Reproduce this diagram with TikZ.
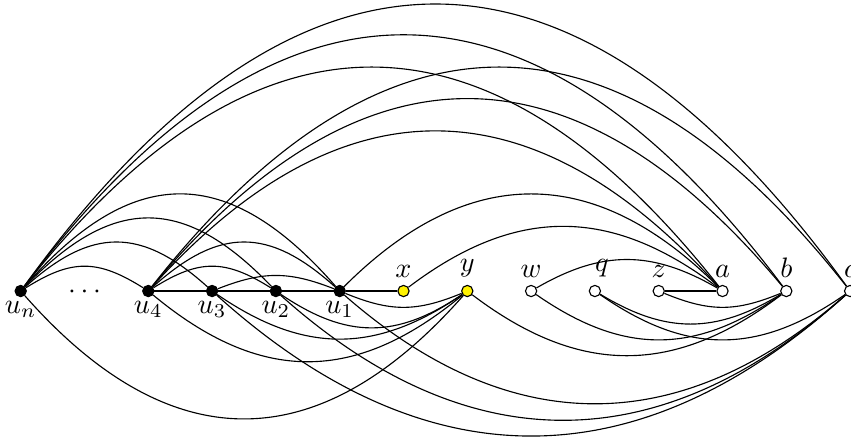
\documentclass[tikz,border=0pt]{standalone}
\usetikzlibrary{backgrounds}
\newcommand{\arcup}[4]{\draw[edge] (#1) .. controls +(#3,-#4) and +(-#3,-#4) .. (#2);}
\newcommand{\arcdn}[4]{\draw[edge] (#1) .. controls +(#3,#4) and +(-#3,#4) .. (#2);}
\begin{document}
\begin{tikzpicture}[x=0.0125cm,y=-0.0125cm,
  vtx/.style={circle,draw=black,line width=0.4pt,inner sep=0pt,minimum size=4pt},
  blk/.style={vtx,fill=black},
  ylw/.style={vtx,fill=yellow},
  wht/.style={vtx,fill=white},
  edge/.style={line width=0.4pt,black},
  lab/.style={inner sep=0pt},
  bl/.style={label={[lab,label distance=1.2pt]below:#1}},
  ab/.style={label={[lab,label distance=2.5pt]above:#1}}]
\useasboundingbox (0,0) rectangle (851,436);
% vertices
\node[blk,bl={$u_n$}] (un) at (20.7,291) {};
\node[inner sep=0pt,anchor=base] (dots) at (84.5,298) {$\cdots$};
\node[blk,bl={$u_4$}] (u4) at (148.3,291) {};
\node[blk,bl={$u_3$}] (u3) at (212.1,291) {};
\node[blk,bl={$u_2$}] (u2) at (275.9,291) {};
\node[blk,bl={$u_1$}] (u1) at (339.7,291) {};
\node[ylw,ab={$x$}] (x) at (403.5,291) {};
\node[ylw,ab={$y$}] (y) at (467.3,291) {};
\node[wht,ab={$w$}] (w) at (531.1,291) {};
\node[wht,label={[lab,label distance=2.5pt,xshift=2.5pt]above:$q$}] (q) at (594.9,291) {};
\node[wht,ab={$z$}] (z) at (658.7,291) {};
\node[wht,ab={$a$}] (a) at (722.5,291) {};
\node[wht,ab={$b$}] (b) at (786.3,291) {};
\node[wht,ab={$c$}] (c) at (850.1,291) {};
\begin{scope}[on background layer]
% straight edges
\draw[edge] (u4) -- (u3) -- (u2) -- (u1) -- (x);
\draw[edge] (z) -- (a);
% short top arcs among u's
\arcup{un}{u4}{51}{32}
\arcup{un}{u3}{71}{64}
\arcup{un}{u2}{92}{96}
\arcup{un}{u1}{112}{128}
\arcup{u4}{u2}{51}{32}
\arcup{u4}{u1}{71}{64}
\arcup{u3}{u1}{51}{20}
% long top arcs
\arcup{un}{a}{234}{297}
\arcup{un}{b}{255}{340}
\arcup{un}{c}{276}{381}
\arcup{u4}{a}{191}{212}
\arcup{u4}{b}{213}{255}
\arcup{u4}{c}{234}{297}
\arcup{u1}{a}{128}{128}
\arcup{x}{a}{112}{85}
\arcup{w}{a}{71}{41}
% bottom arcs to y
\arcdn{u1}{y}{51}{21}
\arcdn{u2}{y}{71}{48}
\arcdn{u3}{y}{92}{63}
\arcdn{u4}{y}{112}{93}
\arcdn{un}{y}{149}{169}
% bottom arcs to b
\arcdn{y}{b}{112}{85}
\arcdn{w}{b}{92}{64}
\arcdn{q}{b}{71}{43}
\arcdn{z}{b}{51}{21}
% bottom arcs to c
\arcdn{q}{c}{92}{64}
\arcdn{u1}{c}{170}{149}
\arcdn{u2}{c}{191}{171}
\arcdn{u3}{c}{213}{192}
\end{scope}
\end{tikzpicture}
\end{document}
